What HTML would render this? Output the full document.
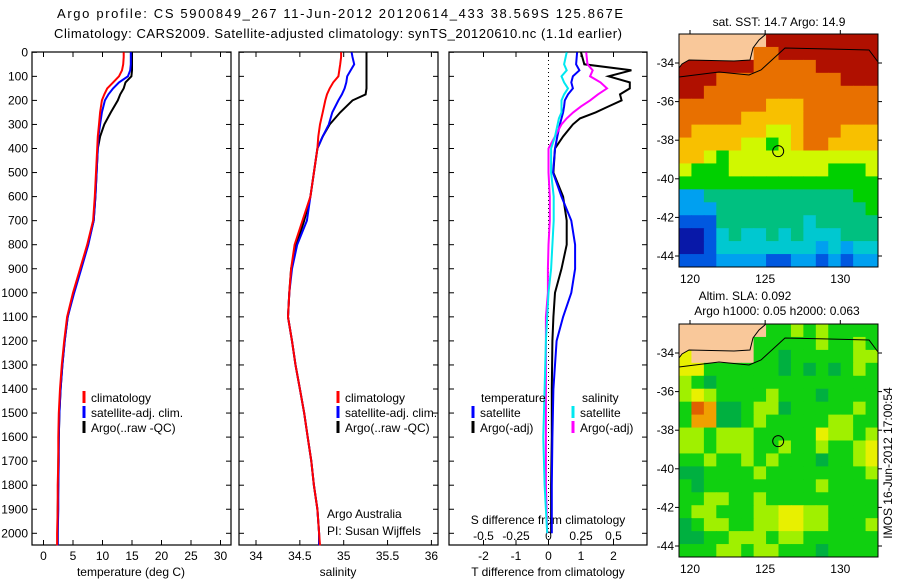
<!DOCTYPE html>
<html><head><meta charset="utf-8">
<style>
body{margin:0;background:#fff;}
svg{display:block;font-family:"Liberation Sans",sans-serif;}
text{font-size:12px;fill:#000;}
</style></head>
<body>
<svg id="fig" width="900" height="580" viewBox="0 0 900 580" xmlns="http://www.w3.org/2000/svg">
<rect width="900" height="580" fill="#fff"/>
<text x="340" y="18" text-anchor="middle" style="font-size:13px" textLength="566">Argo profile: CS 5900849_267 11-Jun-2012 20120614_433 38.569S 125.867E</text>
<text x="338" y="38" text-anchor="middle" style="font-size:13px" textLength="568">Climatology: CARS2009. Satellite-adjusted climatology: synTS_20120610.nc (1.1d earlier)</text>
</svg>
<script>
// ---------- data ----------
const depths = [0,20,50,75,100,125,150,175,200,250,300,350,400,500,600,700,800,900,1000,1100,1200,1300,1400,1500,1600,1700,1800,1900,2000,2050];
const tempClim = [13.6,13.6,13.5,13.3,12.8,11.8,10.8,10.3,9.9,9.6,9.4,9.2,9.1,8.9,8.7,8.4,7.4,6.2,5.0,4.0,3.5,3.1,2.8,2.6,2.5,2.5,2.4,2.4,2.3,2.3];
const tempSat  = [14.8,14.8,14.8,14.7,14.3,12.8,11.8,11.0,10.4,9.9,9.6,9.3,9.2,9.0,8.8,8.5,7.6,6.4,5.2,4.1,3.6,3.2,2.9,2.7,2.6,2.6,2.5,2.5,2.4,2.4];
const tempArgo = [15.0,15.0,15.0,15.0,14.9,13.9,13.6,13.0,12.6,11.4,10.3,9.6,9.2,9.0,8.8,8.5,7.5,6.3,5.1,4.1,3.6,3.2,2.9,2.7,2.6,2.5,2.5,2.4,2.4,2.4];
const salClim = [34.97,34.97,34.96,34.95,34.94,34.88,34.84,34.81,34.79,34.76,34.73,34.71,34.70,34.66,34.62,34.53,34.44,34.40,34.38,34.365,34.41,34.45,34.50,34.55,34.59,34.63,34.66,34.70,34.72,34.73];
const salSat  = [35.09,35.10,35.12,35.08,35.04,35.03,35.01,34.98,34.94,34.87,34.83,34.76,34.70,34.66,34.62,34.58,34.47,34.41,34.38,34.365,34.41,34.45,34.50,34.55,34.59,34.63,34.66,34.70,34.72,34.72];
const salArgo = [35.26,35.26,35.26,35.26,35.26,35.26,35.26,35.25,35.10,34.96,34.84,34.76,34.70,34.66,34.62,34.55,34.46,34.40,34.38,34.365,34.41,34.45,34.50,34.55,34.59,34.63,34.66,34.70,34.72,34.72];

const diffDepths = [0,50,75,100,125,150,175,200,225,250,275,300,350,400,500,600,700,800,900,1000,1100,1200,1400,1600,1800,2000];
const tDiffSat  = [0.88,0.85,0.95,0.75,0.70,0.75,0.60,0.50,0.48,0.45,0.40,0.35,0.27,0.20,0.14,0.40,0.70,0.82,0.82,0.70,0.45,0.25,0.15,0.12,0.10,0.10];
const tDiffArgo = [1.00,1.10,2.55,1.85,2.50,2.50,2.20,2.25,1.85,1.45,0.97,0.75,0.45,0.20,0.15,0.45,0.56,0.56,0.40,0.20,0.15,0.12,0.10,0.10,0.08,0.08];
const sDiffSat  = [0.14,0.12,0.14,0.10,0.12,0.15,0.12,0.10,0.10,0.10,0.08,0.07,0.05,0.02,0.02,0.04,0.04,0.03,0.02,0.00,-0.01,-0.02,-0.03,-0.04,-0.03,-0.01];
const sDiffArgo = [0.29,0.30,0.34,0.32,0.40,0.45,0.38,0.32,0.25,0.19,0.14,0.10,0.05,0.00,0.00,0.01,0.01,0.00,-0.005,-0.005,-0.02,-0.02,-0.02,-0.02,-0.02,-0.01];

const depthTicks = [0,100,200,300,400,500,600,700,800,900,1000,1100,1200,1300,1400,1500,1600,1700,1800,1900,2000];
const tempTicks = [0,5,10,15,20,25,30];
const salTicks = [34,34.5,35,35.5,36];
const tdTicks = [-2,-1,0,1,2];
const sdTicks = [-0.5,-0.25,0,0.25,0.5];
const sdTickLabels = ["-0.5","-0.25","0","0.25","0.5"];

// map grids (digit 0-9 on colour scale, L = land)
const sstGrid = [
"LLLLLLL999999999","LLLLLL8899999999","9999998888899999","9998888888888999",
"9988888888888888","8888888777888888","8888877777888888","8777777667888777",
"7777766567887777","7765666666666666","6555666666665556","5555555555555555",
"2244444444444455","2224444444444445","1114444444344444","0013433434333444",
"0013333333323233","1112222112212122"];
const slaGrid = [
"LLLLLLL556565555","LLLLLL5555565565","7LLLLL5545555566","7755555545454565",
"6545555555555555","6765555655545555","5984456645555565","5884456555556655",
"6656665555576656","6656665565565567","5565565655545567","4455556555555556",
"5455555555565555","5566556555555555","5665556677665555","4566556677665556",
"4455666566555555","5556656655545555"];
const lonTicks = [120,125,130];
const latTicks = [-34,-36,-38,-40,-42,-44];
const argoLon = 125.867, argoLat = -38.569;

// ---------- helpers ----------
const NS = "http://www.w3.org/2000/svg";
const svg = document.getElementById('fig');
function mk(tag, attrs, parent){
  const e = document.createElementNS(NS, tag);
  for (const k in attrs) e.setAttribute(k, attrs[k]);
  (parent||svg).appendChild(e);
  return e;
}
const yD = d => 52.3 + d*0.2405;
const xT = v => 43.5 + v*5.9;
const xS = s => 256 + (s-34)*87.7;
const xTD = v => 548.5 + v*32.5;
const xSD = s => 548.5 + s*130;

const panels = [[32,231],[239,438],[449,647]];
const pTop = 52, pBot = 545;

panels.forEach((p,i)=>{
  const g = mk('g',{});
  
  
  const r = mk('rect',{x:p[0],y:pTop,width:p[1]-p[0],height:pBot-pTop,fill:'none',stroke:'#000','stroke-width':1.2},g);
  
  
  depthTicks.forEach(d=>{
    const t1 = mk('line',{x1:p[0],x2:p[0]+5,y1:yD(d),y2:yD(d),stroke:'#000'},g);
    
    
    const t2 = mk('line',{x1:p[1]-5,x2:p[1],y1:yD(d),y2:yD(d),stroke:'#000'},g);
    
    
  });
});
depthTicks.forEach(d=>{
  const t = mk('text',{x:28,y:yD(d)+4,'text-anchor':'end'});
  t.textContent = d;
  
  
});
function xAxis(ticks, labels, fx, y, tickTop){
  ticks.forEach((v,i)=>{
    const x = fx(v);
    const a = mk('line',{x1:x,x2:x,y1:pBot-5,y2:pBot,stroke:'#000'});
    
    
    if (tickTop){
      const b = mk('line',{x1:x,x2:x,y1:pTop,y2:pTop+5,stroke:'#000'});
      
      
    }
    const t = mk('text',{x:x,y:y,'text-anchor':'middle'});
    t.textContent = labels[i];
    
    
  });
}
xAxis(tempTicks, tempTicks.map(String), xT, 560, true);
xAxis(salTicks, salTicks.map(String), xS, 560, true);
xAxis(tdTicks, tdTicks.map(String), xTD, 560, true);
sdTicks.forEach((v,i)=>{
  const t = mk('text',{x:xSD(v),y:540,'text-anchor':'middle'});
  t.textContent = sdTickLabels[i];
  
  
});
[[131,'temperature (deg C)','x-axis-title-temperature'],[338,'salinity','x-axis-title-salinity'],[548,'T difference from climatology','x-axis-title-t-diff']].forEach(a=>{
  const t = mk('text',{x:a[0],y:576,'text-anchor':'middle'});
  t.textContent = a[1];
  
  
});
const sdt = mk('text',{x:548,y:524,'text-anchor':'middle'});
sdt.textContent = 'S difference from climatology';



const zl = mk('line',{x1:xTD(0),x2:xTD(0),y1:pTop,y2:pBot,stroke:'#000','stroke-dasharray':'1,3'});



function line(vals, dps, fx, color, name, w){
  const pts = vals.map((v,i)=>fx(v).toFixed(1)+','+yD(dps[i]).toFixed(1)).join(' ');
  const p = mk('polyline',{points:pts,fill:'none',stroke:color,'stroke-width':w||2});
  
  
}
line(tempArgo, depths, xT, '#000', 'temp-argo-line');
line(tempSat, depths, xT, '#0000ff', 'temp-satellite-line');
line(tempClim, depths, xT, '#ff0000', 'temp-climatology-line');
line(salArgo, depths, xS, '#000', 'sal-argo-line');
line(salSat, depths, xS, '#0000ff', 'sal-satellite-line');
line(salClim, depths, xS, '#ff0000', 'sal-climatology-line');
line(tDiffArgo, diffDepths, xTD, '#000', 't-diff-argo-line');
line(tDiffSat, diffDepths, xTD, '#0000ff', 't-diff-satellite-line');
line(sDiffArgo, diffDepths, xSD, '#ff00ff', 's-diff-argo-line');
line(sDiffSat, diffDepths, xSD, '#00e8f0', 's-diff-satellite-line');

function legend(x, y, color, label){
  const b = mk('line',{x1:x,x2:x,y1:y-11,y2:y+1,stroke:color,'stroke-width':3});
  
  
  const t = mk('text',{x:x+7,y:y});
  t.textContent = label;
  
  
}
[[84,'#ff0000','climatology'],[84,'#0000ff','satellite-adj. clim.'],[84,'#000','Argo(..raw -QC)']].forEach((a,i)=>legend(a[0],402+i*15,a[1],a[2]));
[[338,'#ff0000','climatology'],[338,'#0000ff','satellite-adj. clim.'],[338,'#000','Argo(..raw -QC)']].forEach((a,i)=>legend(a[0],402+i*15,a[1],a[2]));
legend(473,417,'#0000ff','satellite'); legend(473,432,'#000','Argo(-adj)');
legend(573,417,'#00e8f0','satellite'); legend(573,432,'#ff00ff','Argo(-adj)');
[[481,402,'temperature','legend-title-temperature'],[582,402,'salinity','legend-title-salinity'],[327,518,'Argo Australia','credit-line-1'],[327,535,'PI: Susan Wijffels','credit-line-2']].forEach(a=>{
  const t = mk('text',{x:a[0],y:a[1]});
  t.textContent = a[2];
  
  
});

// ---------- maps ----------
const sstPalette = ['#0818a8','#0058e0','#00a0f0','#00c8d0','#00c080','#00d000','#d0f800','#f8c000','#e87000','#b01000'];
const slaPalette = ['#0818a8','#0058e0','#00a0f0','#00c8d0','#00b040','#10d010','#a0f000','#e8f000','#f0a000','#e06000'];
const mapX0 = 679, mapX1 = 878;
const lonX = lon => 690 + (lon-120)*15.03;
function drawMap(grid, pal, top, bottom, name){
  const g = mk('g',{});
  
  
  const latY = lat => top + 29 + (-34-lat)*19.3;
  const rows = grid.length, cols = grid[0].length;
  const cw = (mapX1-mapX0)/cols, ch = (bottom-top)/rows;
  grid.forEach((row,r)=>{
    for (let c=0;c<cols;c++){
      const k = row[c];
      const fill = k==='L' ? '#f9c89a' : pal[+k];
      const cell = mk('rect',{x:(mapX0+c*cw).toFixed(2),y:(top+r*ch).toFixed(2),width:(cw+0.5).toFixed(2),height:(ch+0.5).toFixed(2),fill:fill},g);
      
      
    }
  });
  const X = v => mapX0+v, Y = v => top+v;
  const land = mk('polygon',{points:`${X(0)},${Y(0)} ${X(87)},${Y(0)} ${X(80)},${Y(6)} ${X(74)},${Y(14)} ${X(71)},${Y(26)} ${X(55)},${Y(27)} ${X(10)},${Y(26)} ${X(3)},${Y(30)} ${X(0)},${Y(34)}`,fill:'#f9c89a'},g);
  
  
  const coastEdge = mk('polyline',{points:`${X(0)},${Y(34)} ${X(3)},${Y(30)} ${X(10)},${Y(26)} ${X(55)},${Y(27)} ${X(71)},${Y(26)} ${X(74)},${Y(14)} ${X(80)},${Y(6)} ${X(87)},${Y(0)}`,fill:'none',stroke:'#000','stroke-width':1},g);
  
  
  const contour = mk('polyline',{points:`${X(0)},${Y(43)} ${X(40)},${Y(38)} ${X(70)},${Y(41)} ${X(82)},${Y(36)} ${X(106)},${Y(14)} ${X(150)},${Y(15)} ${X(190)},${Y(16)} ${X(199)},${Y(28)}`,fill:'none',stroke:'#000','stroke-width':1},g);
  
  
  const fr = mk('rect',{x:mapX0,y:top,width:mapX1-mapX0,height:bottom-top,fill:'none',stroke:'#000'},g);
  
  
  latTicks.forEach(l=>{
    const t = mk('text',{x:674,y:latY(l)+4,'text-anchor':'end'},g);
    t.textContent = l;
    
    
    const tk = mk('line',{x1:mapX0-4,x2:mapX0,y1:latY(l),y2:latY(l),stroke:'#000'},g);
    
    
    const tk2 = mk('line',{x1:mapX1,x2:mapX1+4,y1:latY(l),y2:latY(l),stroke:'#000'},g);
    
    
  });
  lonTicks.forEach(l=>{
    const t = mk('text',{x:lonX(l),y:bottom+16,'text-anchor':'middle'},g);
    t.textContent = l;
    
    
    const tk = mk('line',{x1:lonX(l),x2:lonX(l),y1:top-4,y2:top,stroke:'#000'},g);
    
    
  });
  const m = mk('circle',{cx:lonX(argoLon),cy:latY(argoLat),r:5.5,fill:'none',stroke:'#000','stroke-width':1},g);
  
  
}
drawMap(sstGrid, sstPalette, 34, 267, 'sst-map');
drawMap(slaGrid, slaPalette, 324, 557, 'sla-map');
[[779,26,'sat. SST: 14.7 Argo: 14.9','sst-map-title'],[745,300,'Altim. SLA: 0.092','sla-map-title-1'],[777,315,'Argo h1000: 0.05 h2000: 0.063','sla-map-title-2']].forEach(a=>{
  const t = mk('text',{x:a[0],y:a[1],'text-anchor':'middle'});
  t.textContent = a[2];
  
  
});
const stamp = mk('text',{x:0,y:0,'text-anchor':'middle',transform:'translate(892,463) rotate(-90)'});
stamp.textContent = 'IMOS 16-Jun-2012 17:00:54';


</script>
</body></html>
